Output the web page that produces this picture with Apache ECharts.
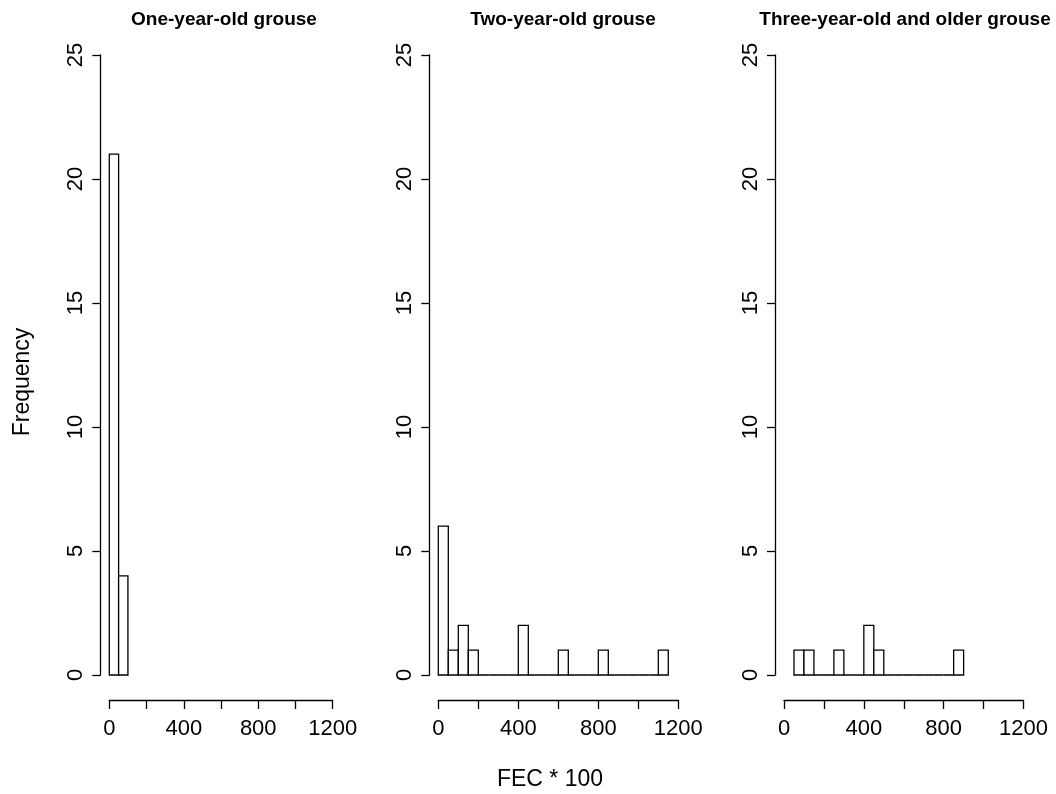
<!DOCTYPE html>
<html>
<head>
<meta charset="utf-8">
<script src="https://cdn.jsdelivr.net/npm/echarts@6/dist/echarts.min.js"></script>
<style>
  html, body { margin: 0; padding: 0; background: #fff; }
  #chart { width: 1056px; height: 794px; }
</style>
</head>
<body>
<div id="chart"></div>
<script>
// histogram bins are 50 wide, counts listed from the first bin start
var binWidth = 50;
var panelTitles = ['One-year-old grouse', 'Two-year-old grouse', 'Three-year-old and older grouse'];
var oneYearStart = 0;
var oneYearCounts = [21, 4];
var twoYearStart = 0;
var twoYearCounts = [6, 1, 2, 1, 0, 0, 0, 0, 2, 0, 0, 0, 1, 0, 0, 0, 1, 0, 0, 0, 0, 0, 1];
var threeYearStart = 50;
var threeYearCounts = [1, 1, 0, 0, 1, 0, 0, 2, 1, 0, 0, 0, 0, 0, 0, 0, 1];
var xTickLabels = [0, 400, 800, 1200];
var yTicks = [0, 5, 10, 15, 20, 25];

function makeBins(start, counts) {
  var out = [];
  for (var i = 0; i < counts.length; i++) {
    out.push([start + i * binWidth, start + (i + 1) * binWidth, counts[i]]);
  }
  return out;
}

var panels = [
  { bins: makeBins(oneYearStart, oneYearCounts), left: 109.3, width: 223.4, titleX: 219 },
  { bins: makeBins(twoYearStart, twoYearCounts), left: 438.3, width: 240, titleX: 558 },
  { bins: makeBins(threeYearStart, threeYearCounts), left: 784, width: 239.5, titleX: 900 }
];

var font = 'Liberation Sans, Arial, Helvetica, sans-serif';
var axisLine = { show: true, onZero: false, lineStyle: { color: '#000', width: 1.3 } };

function renderBar(params, api) {
  var p0 = api.coord([api.value(0), 0]);
  var p1 = api.coord([api.value(1), api.value(2)]);
  return {
    type: 'rect',
    shape: { x: p0[0], y: p1[1], width: p1[0] - p0[0], height: p0[1] - p1[1] },
    style: { fill: '#fff', stroke: '#000', lineWidth: 1.3 }
  };
}

var grids = [], xAxes = [], yAxes = [], series = [], titles = [];
panels.forEach(function (p, i) {
  grids.push({ left: p.left, width: p.width, top: 55, bottom: 119 });
  xAxes.push({
    type: 'value', gridIndex: i, min: 0, max: 1200, interval: 200, offset: 25,
    axisLine: axisLine,
    axisTick: { show: true, length: 9, lineStyle: { color: '#000', width: 1.3 } },
    axisLabel: {
      color: '#000', fontSize: 22, fontFamily: font, margin: 18,
      formatter: function (v) { return xTickLabels.indexOf(v) >= 0 ? String(v) : ''; }
    },
    splitLine: { show: false }
  });
  yAxes.push({
    type: 'value', gridIndex: i, min: yTicks[0], max: yTicks[yTicks.length - 1], interval: 5, offset: 9,
    axisLine: axisLine,
    axisTick: { show: true, length: 8, lineStyle: { color: '#000', width: 1.3 } },
    axisLabel: { color: '#000', fontSize: 22, fontFamily: font, rotate: 90, margin: 13 },
    splitLine: { show: false }
  });
  series.push({
    type: 'custom', xAxisIndex: i, yAxisIndex: i,
    renderItem: renderBar,
    encode: { x: [0, 1], y: 2 },
    data: p.bins,
    clip: false,
    silent: true
  });
  titles.push({
    text: panelTitles[i], left: p.titleX, top: 5, textAlign: 'center',
    textStyle: { fontSize: 19, fontWeight: 'bold', color: '#000', fontFamily: font }
  });
});

var chart = echarts.init(document.getElementById('chart'));
chart.setOption({
  animation: false,
  backgroundColor: '#fff',
  title: titles,
  grid: grids,
  xAxis: xAxes,
  yAxis: yAxes,
  series: series,
  graphic: [
    {
      type: 'text', x: 23, y: 382, rotation: Math.PI / 2,
      style: { text: 'Frequency', fontSize: 23, fontFamily: font, fill: '#000', align: 'center', verticalAlign: 'middle' }
    },
    {
      type: 'text', x: 550, y: 780,
      style: { text: 'FEC * 100', fontSize: 23, fontFamily: font, fill: '#000', align: 'center', verticalAlign: 'middle' }
    }
  ]
});
</script>
</body>
</html>
